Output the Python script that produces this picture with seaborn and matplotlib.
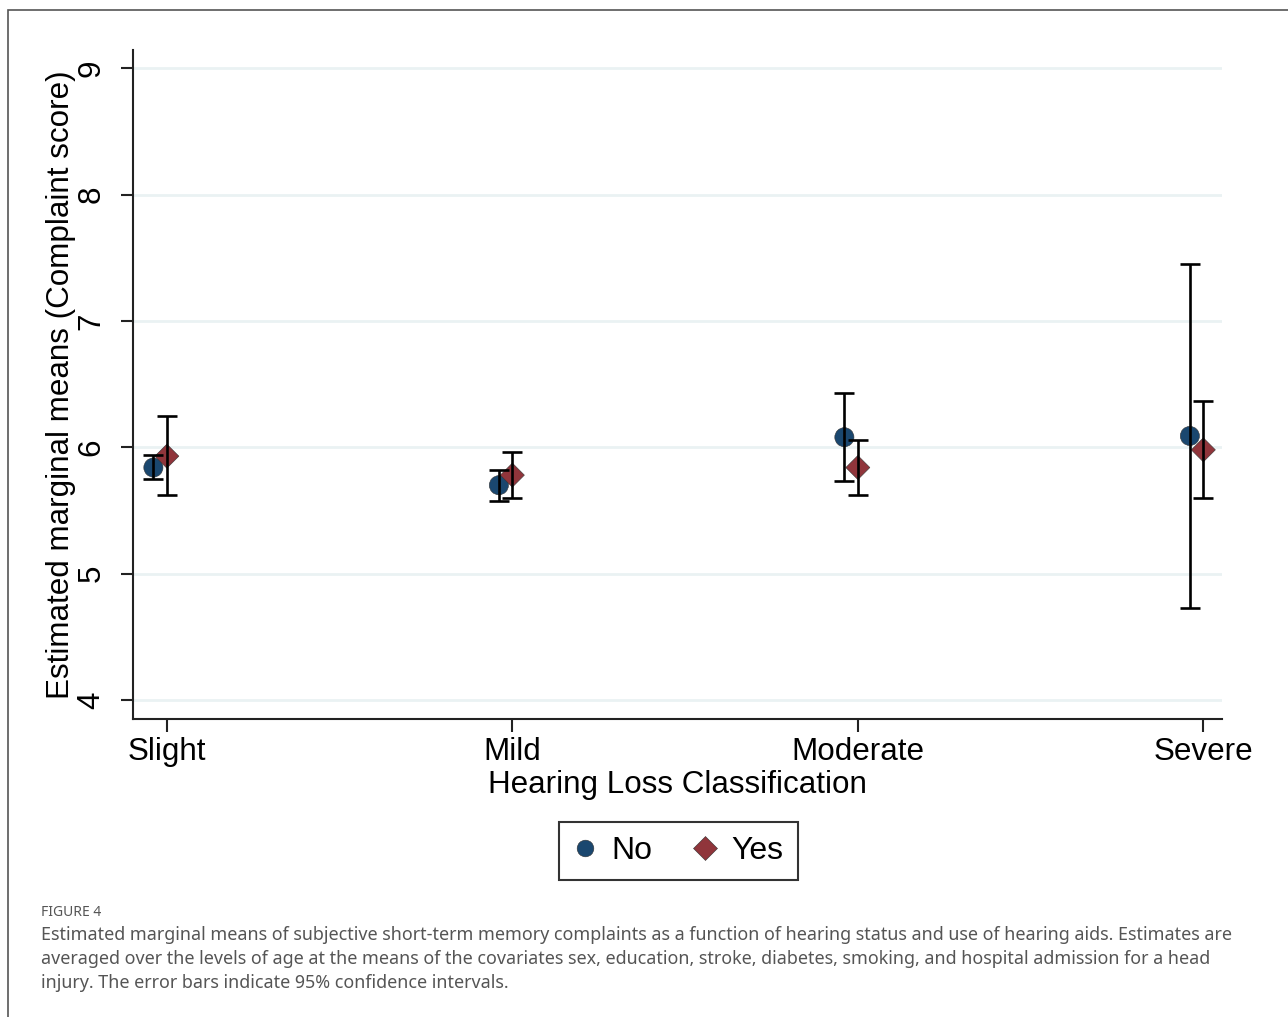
import numpy as np
import pandas as pd
import seaborn as sns
import matplotlib.pyplot as plt
from matplotlib.lines import Line2D
from matplotlib.patches import Rectangle

categories = ["Slight", "Mild", "Moderate", "Severe"]
groups = ["No", "Yes"]

# estimated marginal means and 95% CI
no_mean = [5.84, 5.70, 6.08, 6.09]
no_low = [5.75, 5.575, 5.73, 4.73]
no_high = [5.94, 5.82, 6.43, 7.45]

yes_mean = [5.93, 5.78, 5.84, 5.98]
yes_low = [5.62, 5.60, 5.62, 5.60]
yes_high = [6.25, 5.96, 6.06, 6.37]

yticks = [4, 5, 6, 7, 8, 9]

colors = {"No": "#1a476f", "Yes": "#90353b"}
offsets = {"No": -0.039, "Yes": 0.0}

rows = []
for g, m, lo, hi in [("No", no_mean, no_low, no_high), ("Yes", yes_mean, yes_low, yes_high)]:
    for i, c in enumerate(categories):
        rows.append({"category": c, "aid": g, "mean": m[i], "low": lo[i], "high": hi[i],
                     "xpos": i + offsets[g]})
df = pd.DataFrame(rows)

sns.set_theme(style="ticks")
plt.rcParams["font.family"] = ["Liberation Sans", "DejaVu Sans"]
plt.rcParams["text.color"] = "black"
plt.rcParams["axes.labelcolor"] = "black"
plt.rcParams["xtick.labelcolor"] = "black"
plt.rcParams["ytick.labelcolor"] = "black"

fig = plt.figure(figsize=(12.88, 10.17), dpi=100)
ax = fig.add_axes([133 / 1288, 1 - 719 / 1017, (1222 - 133) / 1288, (719 - 50) / 1017])

for y in yticks:
    ax.axhline(y, color="#eaf2f3", lw=2, zorder=0)

sns.scatterplot(data=df, x="xpos", y="mean", hue="aid", style="aid", size="aid",
                palette=colors, markers={"No": "o", "Yes": "D"},
                sizes={"No": 190, "Yes": 150}, edgecolor="#333333", linewidth=0.4,
                legend=False, zorder=2, ax=ax)

ax.errorbar(df["xpos"], df["mean"], yerr=[df["mean"] - df["low"], df["high"] - df["mean"]],
            fmt="none", ecolor="black", elinewidth=1.9, capsize=7, capthick=1.9, zorder=3)

ax.set_xlim(-0.098, 3.054)
ax.set_ylim(3.849, 9.146)
ax.set_xticks(range(len(categories)))
ax.set_xticklabels(categories)
ax.set_yticks(yticks)
ax.set_yticklabels([str(t) for t in yticks], rotation=90, va="center")

ax.set_xlabel("Hearing Loss Classification", fontsize=22.6, labelpad=2)
ax.set_ylabel("Estimated marginal means (Complaint score)", fontsize=22.6, labelpad=0.5)
ax.tick_params(axis="both", labelsize=22.6, length=9, width=1.5, color="#222222")
ax.tick_params(axis="x", pad=4)
ax.tick_params(axis="y", pad=10)

sns.despine(ax=ax)
for s in ["left", "bottom"]:
    ax.spines[s].set_linewidth(1.5)
    ax.spines[s].set_color("#222222")

handles = [Line2D([], [], ls="none", marker="o", ms=12, color=colors["No"], mec="#333333", mew=0.4),
           Line2D([], [], ls="none", marker="D", ms=12, color=colors["Yes"], mec="#333333", mew=0.4)]
leg = fig.legend(handles, groups, loc="center", bbox_to_anchor=(678.5 / 1288, 1 - 851 / 1017),
                 ncol=2, fontsize=23, frameon=True, fancybox=False, handletextpad=0.47,
                 columnspacing=1.3, borderpad=0.45, handlelength=0.7)
leg.get_frame().set_edgecolor("black")
leg.get_frame().set_linewidth(1.5)

fig.patches.append(Rectangle((7.5 / 1288, -0.02), 1.05, 1 - 10 / 1017 + 0.02, transform=fig.transFigure,
                             fill=False, edgecolor="#555555", lw=1.2))

cap_font = ["Noto Sans", "DejaVu Sans"]
fig.text(41 / 1288, 1 - 912 / 1017, "FIGURE 4", fontsize=10, color="#555555", family=cap_font,
         va="center", ha="left")
caption = [
    "Estimated marginal means of subjective short-term memory complaints as a function of hearing status and use of hearing aids. Estimates are",
    "averaged over the levels of age at the means of the covariates sex, education, stroke, diabetes, smoking, and hospital admission for a head",
    "injury. The error bars indicate 95% confidence intervals.",
]
for k, line in enumerate(caption):
    fig.text(41 / 1288, 1 - (935 + 24 * k) / 1017, line, fontsize=12.9, color="#555555",
             family=cap_font, va="center", ha="left")

fig.savefig("out.png", dpi=100)
